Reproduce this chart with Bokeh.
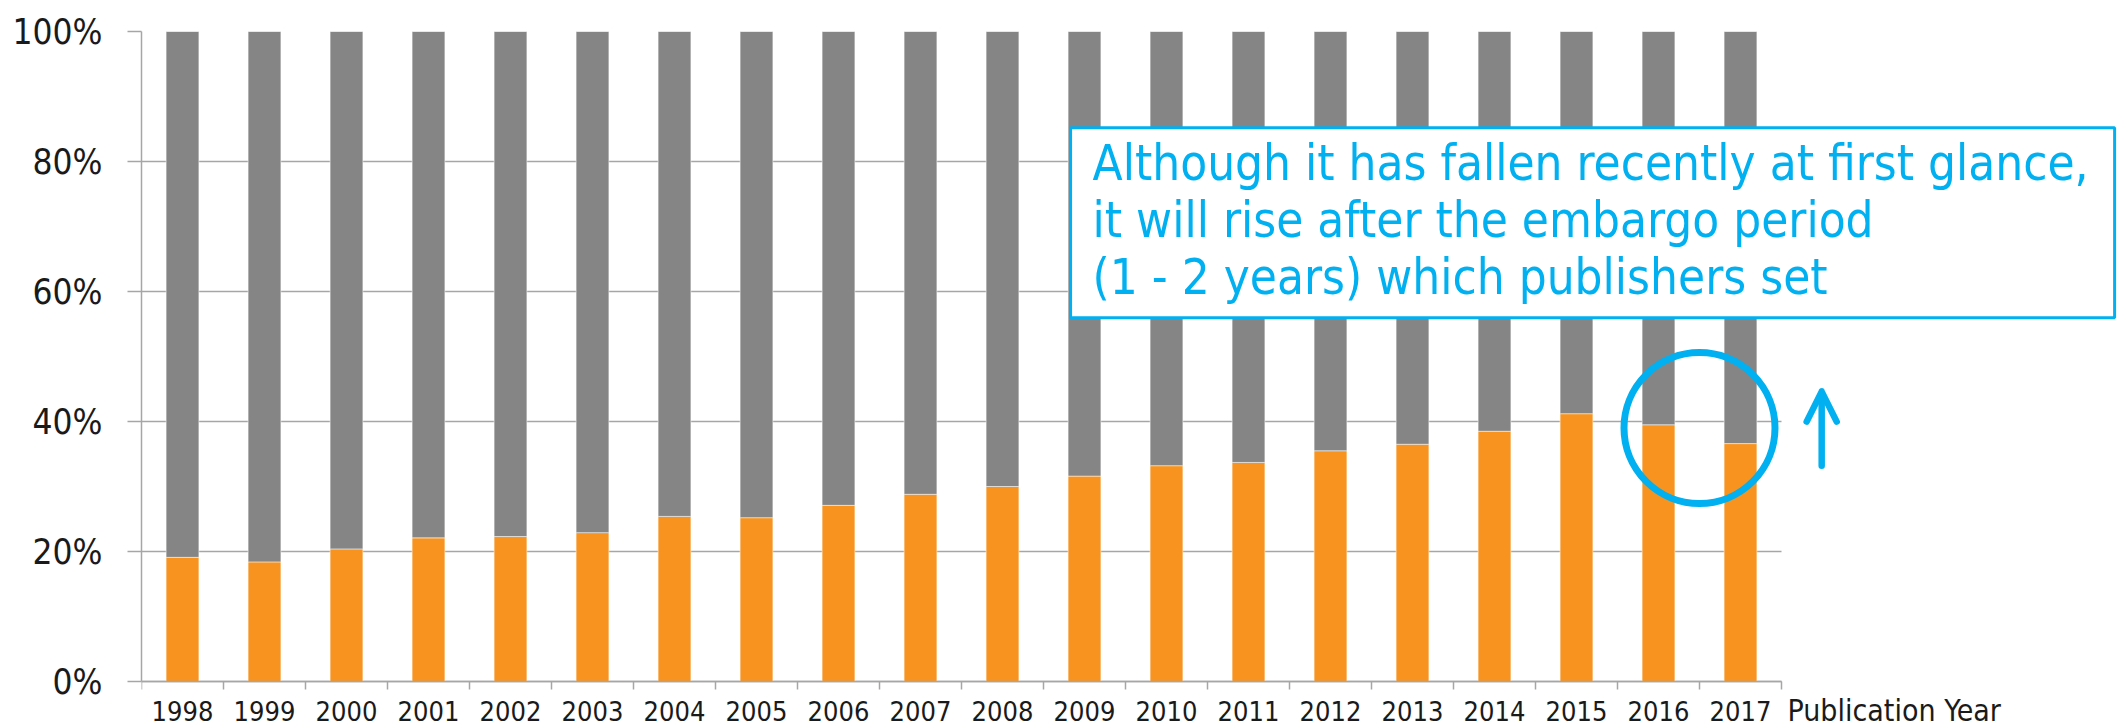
from bokeh.plotting import figure
from bokeh.models import (Range1d, LinearAxis, FixedTicker,
                          PrintfTickFormatter, Label, Arrow, OpenHead)
from bokeh.embed import file_html
from bokeh.resources import INLINE

# ---- data ----
years = [str(y) for y in range(1998, 2018)]
oa_share = [19.1, 18.4, 20.4, 22.1, 22.3, 22.9, 25.4, 25.2, 27.1, 28.8,
            30.0, 31.6, 33.2, 33.7, 35.5, 36.5, 38.5, 41.2, 39.5, 36.6]
total_share = [100] * len(years)
y_ticks = [0, 20, 40, 60, 80, 100]
note_lines = ["Although it has fallen recently at first glance,",
              "it will rise after the embargo period",
              "(1 - 2 years) which publishers set"]
x_title = "Publication Year"

# ---- style / layout ----
FONT = "DejaVu Sans Condensed, DejaVu Sans, sans-serif"
ORANGE = "#F7931E"
GRAY = "#858585"
CYAN = "#00B0F0"
AXIS = "#A6A6A6"
TXT = "#1a1a1a"
W, H = 2125, 728
LEFT, TOP = 141, 31          # frame offsets in px
SLOT_PX = 82                 # width of one year slot in px
PX_PER_PCT = 6.5             # vertical px per percentage point

n = len(years)
centers = [i + 0.5 for i in range(n)]   # slot centres on a 0..n scale
edges = list(range(n + 1))              # slot boundaries
x_end = (W - LEFT) / SLOT_PX
y_min = 100 - (H - TOP) / PX_PER_PCT

p = figure(width=W, height=H, x_range=Range1d(0, x_end), y_range=Range1d(y_min, 100),
           output_backend="svg", toolbar_location=None,
           x_axis_location=None, y_axis_location=None,
           min_border_left=LEFT, min_border_right=0, min_border_top=TOP, min_border_bottom=0)
p.outline_line_color = None
p.background_fill_color = "white"
p.border_fill_color = "white"

# y axis
yax = LinearAxis(ticker=FixedTicker(ticks=y_ticks), formatter=PrintfTickFormatter(format="%d%%"),
                 bounds=(0, 100))
yax.axis_line_color = AXIS
yax.axis_line_width = 1.5
yax.major_tick_line_color = AXIS
yax.major_tick_line_width = 1.5
yax.major_tick_out = 14
yax.major_tick_in = 0
yax.minor_tick_line_color = None
yax.major_label_standoff = 25
yax.major_label_text_font = FONT
yax.major_label_text_font_size = "35px"
yax.major_label_text_color = TXT
p.add_layout(yax, "left")

# x axis at y = 0: tick marks at slot edges, year labels at slot centres
xax = LinearAxis(ticker=FixedTicker(ticks=centers, minor_ticks=edges),
                 major_label_overrides={c: y for c, y in zip(centers, years)},
                 bounds=(0, n), fixed_location=0)
xax.axis_line_color = AXIS
xax.axis_line_width = 1.5
xax.major_tick_line_color = None
xax.major_tick_out = 8
xax.major_tick_in = 0
xax.minor_tick_line_color = AXIS
xax.minor_tick_line_width = 1.5
xax.minor_tick_out = 8
xax.minor_tick_in = 0
xax.major_label_standoff = 11
xax.major_label_text_font = FONT
xax.major_label_text_font_size = "27px"
xax.major_label_text_color = TXT
p.add_layout(xax, "below")

p.xgrid.visible = False
p.ygrid.ticker = FixedTicker(ticks=y_ticks)
p.ygrid.grid_line_color = AXIS
p.ygrid.grid_line_width = 1.5
p.ygrid.cross_bounds = (0, n)

# bars
p.vbar(x=centers, bottom=0, top=oa_share, width=0.4, fill_color=ORANGE,
       line_color="white", line_alpha=0.5, line_width=1)
p.vbar(x=centers, bottom=oa_share, top=total_share, width=0.4, fill_color=GRAY,
       line_color="white", line_alpha=0.5, line_width=1)

# circle around the last two years
p.scatter(x=[edges[-2]], y=[39.0], marker="circle", size=151,
          fill_color=None, line_color=CYAN, line_width=7)

# arrow
p.add_layout(Arrow(x_start=20.49, y_start=33.2, x_end=20.49, y_end=44.6,
                   line_color=CYAN, line_width=6.5, line_cap="round",
                   end=OpenHead(size=30, line_color=CYAN, line_width=6.5, line_cap="round",
                                line_join="round")))

# note box
p.add_layout(Label(x=11.33, y=85.2, text="\n".join(note_lines),
                   text_font=FONT, text_font_size="49px", text_color=CYAN,
                   text_align="left", text_baseline="top", text_line_height=1.0,
                   background_fill_color="white", border_line_color=CYAN, border_line_width=3,
                   padding=dict(left=22, right=26, top=7, bottom=12)))

# axis title
p.add_layout(Label(x=n, x_offset=6, y=-4.4, text=x_title,
                   text_font=FONT, text_font_size="30px", text_color=TXT,
                   text_align="left", text_baseline="middle"))

open("out.html", "w").write(file_html(p, INLINE))
